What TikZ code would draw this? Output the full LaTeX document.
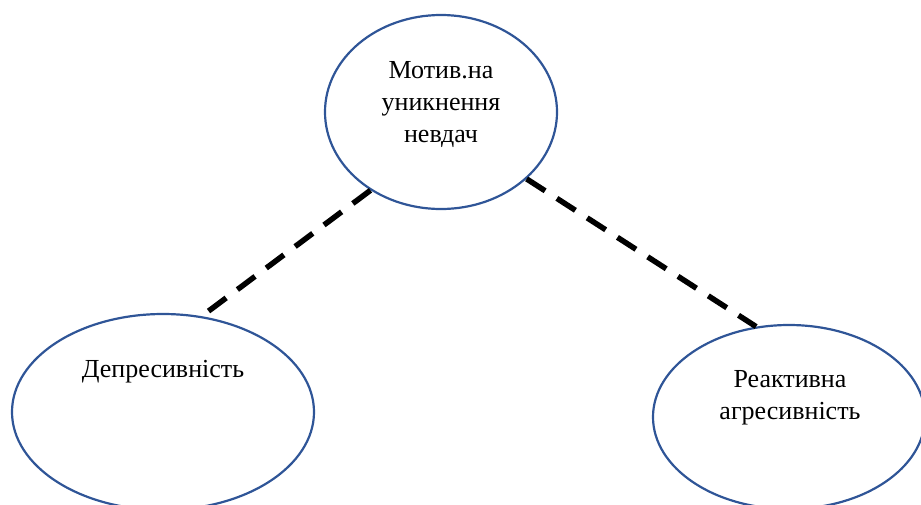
\documentclass[tikz,border=0pt]{standalone}
\usepackage{fontspec}
\setmainfont{Liberation Serif}
\usetikzlibrary{shapes.geometric}
\definecolor{ovalblue}{HTML}{2F5597}

\begin{document}
\begin{tikzpicture}[x=1pt,y=-1pt,
	oval/.style={ellipse,draw=ovalblue,line width=2.2pt,inner sep=0pt},
	txt/.style={align=center,font=\fontsize{26}{32}\selectfont},
	link/.style={line width=5.5pt,dash pattern=on 22pt off 14pt}]
\useasboundingbox (0,0) rectangle (921,504);
\node[oval,minimum width=302pt,minimum height=196pt] (depr) at (163,412) {};
\node[oval,minimum width=232pt,minimum height=194pt] (motiv) at (441,112) {};
\node[oval,minimum width=272pt,minimum height=184pt] (agres) at (789,417) {};
\node[txt] (motivText) at (441,104) {Мотив.на\\уникнення\\невдач};
\node[txt] (deprText) at (163,372) {Депресивність};
\node[txt] (agresText) at (790,398) {Реактивна\\агресивність};
\draw[link] (motiv.228) -- (depr.68);
\draw[link] (motiv.322) -- (agres.110);
\end{tikzpicture}
\end{document}
